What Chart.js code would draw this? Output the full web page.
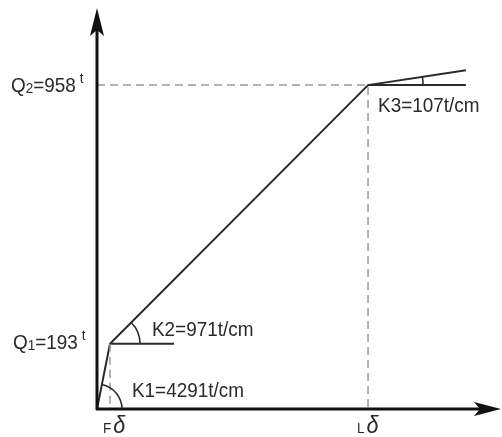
<!DOCTYPE html>
<html>
<head>
<meta charset="utf-8">
<script src="https://cdn.jsdelivr.net/npm/chart.js@4"></script>
<style>
  html, body { margin: 0; padding: 0; background: #fff; }
  #wrap { width: 502px; height: 437px; position: relative; }
</style>
</head>
<body>
<div id="wrap"><canvas id="loadChart"></canvas></div>
<script>
// Load-deflection sketch (trilinear)
const deflections = [0, 0.04, 0.834, 1.135];   // delta, cm (0, F, L, end of K3 branch)
const loads = [0, 193, 958, 1002];             // t
const loadLabels = ['Q1=193', 'Q2=958'];
const stiffLabels = ['K1=4291t/cm', 'K2=971t/cm', 'K3=107t/cm'];
const deltaLabels = ['F', 'L'];
const q1RefEnd = 0.237;                         // end of horizontal reference at Q1
const axisMax = { x: 1.24, y: 1180 };

const FONT = "'Liberation Sans', Arial, Helvetica, sans-serif";
const INK = '#2a2a2a';
const SQUEEZE = 0.9;   // the sketch uses a narrow sans face

const sketchPlugin = {
    id: 'sketch',
    afterDraw(chart) {
        const ctx = chart.ctx;
        const xs = chart.scales.x, ys = chart.scales.y;
        const px = v => xs.getPixelForValue(v);
        const py = v => ys.getPixelForValue(v);
        const ox = px(0), oy = py(0);
        const top = py(axisMax.y), right = px(axisMax.x);

        ctx.save();
        // axes
        ctx.strokeStyle = '#111';
        ctx.fillStyle = '#111';
        ctx.lineWidth = 3;
        ctx.beginPath();
        ctx.moveTo(ox, oy + 1);
        ctx.lineTo(ox, top + 20);
        ctx.moveTo(ox - 1, oy);
        ctx.lineTo(right - 20, oy);
        ctx.stroke();
        // arrow heads
        ctx.beginPath();
        ctx.moveTo(ox, top - 2);
        ctx.lineTo(ox - 7, top + 26);
        ctx.lineTo(ox, top + 20);
        ctx.lineTo(ox + 7, top + 26);
        ctx.closePath();
        ctx.fill();
        ctx.beginPath();
        ctx.moveTo(right + 1, oy);
        ctx.lineTo(right - 26, oy - 7);
        ctx.lineTo(right - 20, oy);
        ctx.lineTo(right - 26, oy + 7);
        ctx.closePath();
        ctx.fill();

        // angle arcs
        ctx.strokeStyle = INK;
        ctx.lineWidth = 1.6;
        const arcs = [[0, 25], [1, 30], [2, 55]];
        arcs.forEach(([i, r]) => {
            const cx = px(deflections[i]), cy = py(loads[i]);
            const ang = Math.atan2(py(loads[i + 1]) - cy, px(deflections[i + 1]) - cx);
            ctx.beginPath();
            ctx.arc(cx, cy, r, ang, 0);
            ctx.stroke();
        });

        // labels
        ctx.fillStyle = INK;
        ctx.textBaseline = 'alphabetic';
        ctx.textAlign = 'left';
        // draws narrow text, returns advance width
        function txt(s, x, y, font) {
            ctx.font = font;
            ctx.save();
            ctx.translate(x, y);
            ctx.scale(SQUEEZE, 1);
            ctx.fillText(s, 0, 0);
            ctx.restore();
            return ctx.measureText(s).width * SQUEEZE;
        }
        function drawLoad(label, x, y) {
            const parts = label.split('=');
            let cx = x;
            cx += txt('Q', cx, y, '21px ' + FONT);
            cx += txt(parts[0].slice(1), cx, y + 1, '15px ' + FONT);
            cx += txt('=' + parts[1], cx, y, '21px ' + FONT);
            txt('t', cx + 4, y - 9, '15px ' + FONT);
        }
        drawLoad(loadLabels[0], 13, py(loads[1]) + 5);
        drawLoad(loadLabels[1], 11, py(loads[2]) + 7);

        txt(stiffLabels[0], ox + 35, oy - 12, '21px ' + FONT);
        txt(stiffLabels[1], px(deflections[1]) + 42, py(loads[1]) - 8, '21px ' + FONT);
        txt(stiffLabels[2], px(deflections[2]) + 10, py(loads[2]) + 27, '21px ' + FONT);

        function drawDelta(letter, x) {
            const w = txt(letter, x, oy + 24, '15px ' + FONT);
            txt('\u03B4', x + w + 2, oy + 24, 'italic 24px ' + FONT);
        }
        drawDelta(deltaLabels[0], px(deflections[1]) - 7);
        drawDelta(deltaLabels[1], px(deflections[2]) - 11);
        ctx.restore();
    }
};

const pts = (xs, ys) => xs.map((x, i) => ({ x: x, y: ys[i] }));

new Chart(document.getElementById('loadChart').getContext('2d'), {
    type: 'scatter',
    data: {
        datasets: [{
            // dashed guides to Q2 / L-delta
            data: pts([0, deflections[2], deflections[2]], [loads[2], loads[2], 0]),
            showLine: true,
            borderColor: '#9a9a9a',
            borderWidth: 1.5,
            borderDash: [8, 5],
            pointRadius: 0
        }, {
            // dashed guide to F-delta
            data: pts([deflections[1], deflections[1]], [loads[1], 0]),
            showLine: true,
            borderColor: '#9a9a9a',
            borderWidth: 1.5,
            borderDash: [8, 5],
            pointRadius: 0
        }, {
            // horizontal reference at Q1
            data: pts([deflections[1], q1RefEnd], [loads[1], loads[1]]),
            showLine: true,
            borderColor: INK,
            borderWidth: 2,
            pointRadius: 0
        }, {
            // horizontal reference at Q2
            data: pts([deflections[2], deflections[3]], [loads[2], loads[2]]),
            showLine: true,
            borderColor: INK,
            borderWidth: 2,
            pointRadius: 0
        }, {
            // load-deflection curve
            data: pts(deflections, loads),
            showLine: true,
            borderColor: INK,
            borderWidth: 2,
            pointRadius: 0,
            tension: 0
        }]
    },
    options: {
        responsive: true,
        maintainAspectRatio: false,
        animation: false,
        layout: { padding: { left: 97, right: 2, top: 10, bottom: 28 } },
        plugins: {
            legend: { display: false },
            tooltip: { enabled: false }
        },
        scales: {
            x: { type: 'linear', min: 0, max: axisMax.x, display: false },
            y: { type: 'linear', min: 0, max: axisMax.y, display: false }
        }
    },
    plugins: [sketchPlugin]
});
</script>
</body>
</html>
